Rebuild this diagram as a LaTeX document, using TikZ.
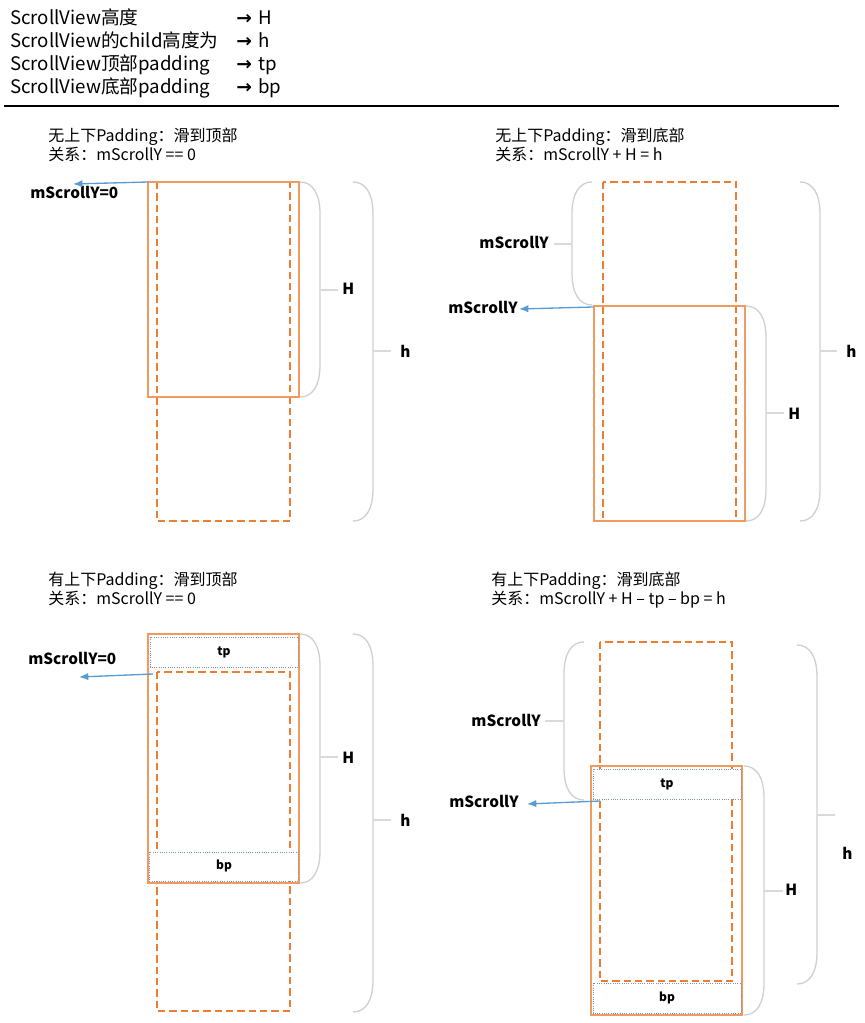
\documentclass[tikz,border=0pt]{standalone}
\usepackage{fontspec}
\setmainfont{Noto Sans CJK SC}
\newfontfamily\symfont{DejaVu Sans}
\usetikzlibrary{arrows.meta}
\definecolor{orng}{HTML}{ED7D31}
\definecolor{orngl}{HTML}{F19A5F}
\definecolor{brgray}{HTML}{CDD0D6}
\definecolor{tickgray}{HTML}{D9D9D9}
\definecolor{arrblue}{HTML}{5B9BD5}
\definecolor{padgray}{HTML}{7F92AC}
\newcommand\RBrace[5]{%
  \draw[brc] (#1,#2) .. controls ({#1+13},#2) and ({#1+20},{#2+12}) .. ({#1+20},{#2+32})
    -- ({#1+20},{#3-32}) .. controls ({#1+20},{#3-12}) and ({#1+13},#3) .. (#1,#3);
  \draw[tickln] ({#1+20},#4) -- ++(#5,0);}
\newcommand\LBrace[5]{%
  \draw[brc] (#1,#2) .. controls ({#1-13},#2) and ({#1-20},{#2+12}) .. ({#1-20},{#2+32})
    -- ({#1-20},{#3-32}) .. controls ({#1-20},{#3-12}) and ({#1-13},#3) .. (#1,#3);
  \draw[tickln] ({#1-20},#4) -- ++(-#5,0);}
\begin{document}
\begin{tikzpicture}[x=0.75pt,y=-0.75pt,
  hdr/.style={anchor=base west,inner sep=0,font=\fontsize{14}{16}\selectfont},
  captxt/.style={anchor=base west,inner sep=0,font=\fontsize{12}{14}\selectfont},
  lbl/.style={inner sep=0,font=\fontsize{11.5}{13}\selectfont\bfseries},
  solidbox/.style={draw=orngl,line width=0.9pt},
  dashbox/.style={draw=orng,line width=0.8pt,dash pattern=on 5.5pt off 3pt},
  padbox/.style={draw=padgray,fill=white,line width=0.7pt,densely dotted},
  padlbl/.style={inner sep=0,font=\fontsize{9}{10}\selectfont\bfseries},
  brc/.style={draw=brgray,line width=1pt},
  tickln/.style={draw=tickgray,line width=1.5pt},
  scrarrow/.style={draw=arrblue,line width=1pt,-{Latex[length=7pt,width=5.5pt]}}
]
\useasboundingbox (0,0) rectangle (864,1023);

% ---------- header ----------
\node[hdr] (h1) at (10,25) {ScrollView高度};
\node[hdr] (h2) at (10,48) {ScrollView的child高度为};
\node[hdr] (h3) at (10,71) {ScrollView顶部padding};
\node[hdr] (h4) at (10,94) {ScrollView底部padding};
\node[hdr] (a1) at (236,25) {\symfont\bfseries →};
\node[hdr] (a2) at (236,48) {\symfont\bfseries →};
\node[hdr] (a3) at (236,71) {\symfont\bfseries →};
\node[hdr] (a4) at (236,94) {\symfont\bfseries →};
\node[hdr] (v1) at (258,25) {H};
\node[hdr] (v2) at (258,48) {h};
\node[hdr] (v3) at (258,71) {tp};
\node[hdr] (v4) at (258,94) {bp};
\draw[line width=1.5pt] (4,106) -- (839,106);

% ---------- panel 1 ----------
\node[captxt] (p1a) at (48,142) {无上下Padding：滑到顶部};
\node[captxt] (p1b) at (48,161) {关系：mScrollY == 0};
\draw[dashbox] (157,182) rectangle (290,521);
\draw[solidbox] (148,182) rectangle (299,397);
\RBrace{300}{182}{397}{290}{18}
\RBrace{353}{182}{521}{351}{18}
\node[lbl,anchor=base west] (p1H) at (342,295) {H};
\node[lbl,anchor=base west] (p1h) at (400,357) {h};
\node[lbl,anchor=base west] (p1m) at (30,199) {mScrollY=0};
\coordinate (p1s) at (148,182);
\coordinate (p1t) at (73,184);
\draw[scrarrow] (p1s) -- (p1t);

% ---------- panel 2 ----------
\node[captxt] (p2a) at (495,142) {无上下Padding：滑到底部};
\node[captxt] (p2b) at (495,161) {关系：mScrollY + H = h};
\draw[dashbox] (603,182) rectangle (736,521);
\draw[solidbox] (594,306) rectangle (745,521);
\LBrace{592}{182}{305}{244}{18}
\RBrace{746}{306}{521}{413}{18}
\RBrace{800}{182}{521}{351}{17}
\node[lbl,anchor=base east] (p2m1) at (549,249) {mScrollY};
\node[lbl,anchor=base west] (p2m2) at (448,313) {mScrollY};
\node[lbl,anchor=base west] (p2H) at (788,419) {H};
\node[lbl,anchor=base west] (p2h) at (846,357) {h};
\coordinate (p2s) at (593,307);
\coordinate (p2t) at (519,309);
\draw[scrarrow] (p2s) -- (p2t);

% ---------- panel 3 ----------
\node[captxt] (p3a) at (48,585) {有上下Padding：滑到顶部};
\node[captxt] (p3b) at (48,604) {关系：mScrollY == 0};
\draw[dashbox] (157,672) rectangle (290,1011);
\draw[solidbox] (148,634) rectangle (299,883);
\draw[padbox] (150,637) rectangle (298,667);
\node[padlbl] (p3tp) at (224,652) {tp};
\draw[padbox] (149,852) rectangle (298,881);
\node[padlbl] (p3bp) at (224,866) {bp};
\RBrace{300}{634}{883}{757}{18}
\RBrace{353}{634}{1012}{820}{18}
\node[lbl,anchor=base west] (p3H) at (342,763) {H};
\node[lbl,anchor=base west] (p3h) at (400,826) {h};
\node[lbl,anchor=base west] (p3m) at (28,664) {mScrollY=0};
\coordinate (p3s) at (153,674);
\coordinate (p3t) at (79,677);
\draw[scrarrow] (p3s) -- (p3t);

% ---------- panel 4 ----------
\node[captxt] (p4a) at (491,585) {有上下Padding：滑到底部};
\node[captxt] (p4b) at (491,604) {关系：mScrollY + H – tp – bp = h};
\draw[dashbox] (600,642) rectangle (732,981);
\draw[solidbox] (591,766) rectangle (742,1015);
\draw[padbox] (593,769) rectangle (741,799);
\node[padlbl] (p4tp) at (667,784) {tp};
\draw[padbox] (593,983) rectangle (741,1013);
\node[padlbl] (p4bp) at (667,998) {bp};
\LBrace{584}{642}{800}{721}{19}
\RBrace{744}{766}{1015}{891}{19}
\RBrace{797}{645}{984}{815}{18}
\node[lbl,anchor=base east] (p4m1) at (541,726) {mScrollY};
\node[lbl,anchor=base west] (p4m2) at (449,807) {mScrollY};
\node[lbl,anchor=base west] (p4H) at (785,895) {H};
\node[lbl,anchor=base west] (p4h) at (842,859) {h};
\coordinate (p4s) at (600,801);
\coordinate (p4t) at (527,804);
\draw[scrarrow] (p4s) -- (p4t);
\end{tikzpicture}
\end{document}
